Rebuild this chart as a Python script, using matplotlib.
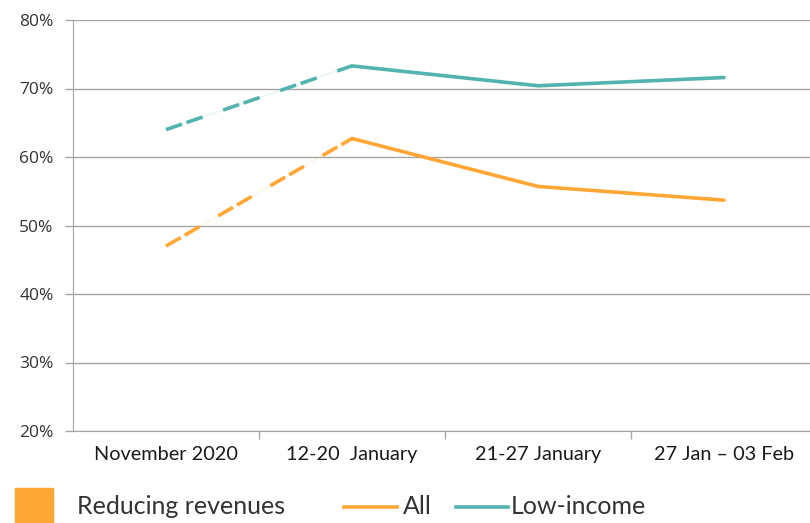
import matplotlib.pyplot as plt
from matplotlib.lines import Line2D
from matplotlib.patches import Rectangle
from matplotlib.ticker import PercentFormatter

plt.rcParams['font.family'] = ['Open Sans', 'DejaVu Sans']

periods = ['November 2020', '12-20  January', '21-27 January', '27 Jan \u2013 03 Feb']
all_share = [47.0, 62.7, 55.7, 53.7]
low_income = [64.0, 73.3, 70.4, 71.6]

orange = '#FFA634'
teal = '#52B3AF'
grey = '#A6A6A6'
narrow = ['Lato', 'DejaVu Sans']

fig = plt.figure(figsize=(8.1, 5.23), dpi=100)
ax = fig.add_axes([73 / 810, 1 - 431 / 523, 744 / 810, 411 / 523])

x = list(range(len(periods)))
for vals, col in [(all_share, orange), (low_income, teal)]:
    # dashed link between the November survey and January
    ax.plot(x[:2], vals[:2], color=col, lw=0.5, alpha=0.25)
    ax.plot(x[:2], vals[:2], color=col, lw=2.6, dashes=(4.7, 1.3, 4.7, 6.0), dash_capstyle='butt')
    ax.plot(x[1:], vals[1:], color=col, lw=2.6, solid_capstyle='round')

ax.set_xlim(-0.5, 3.5)
ax.set_ylim(20, 80)
ax.set_yticks(range(20, 81, 10))
ax.yaxis.set_major_formatter(PercentFormatter(decimals=0))
ax.set_xticks(x)
ax.set_xticklabels(periods, family=narrow, fontsize=14.3, color='#1a1a1a')
ax.set_xticks([0.5, 1.5, 2.5, 3.5], minor=True)
ax.tick_params(axis='x', which='major', length=0, pad=11)
ax.tick_params(axis='x', which='minor', length=6, color=grey, width=1)
ax.tick_params(axis='y', length=6, color=grey, width=1, labelsize=12.5, colors='#333333', pad=8)

ax.grid(axis='y', color=grey, lw=1)
ax.set_axisbelow(True)
for s in ['top', 'right']:
    ax.spines[s].set_visible(False)
ax.spines['left'].set_color(grey)
ax.spines['bottom'].set_color(grey)

# legend drawn by hand
fig.patches.append(Rectangle((15 / 810, 0), 38 / 810, 35 / 523, transform=fig.transFigure,
                             color=orange, zorder=3))
ly = 1 - 507 / 523
fig.text(77 / 810, ly, 'Reducing revenues', fontsize=18, va='center', color='#333333', family=narrow)
fig.add_artist(Line2D([344 / 810, 397 / 810], [ly, ly], color=orange, lw=2.6, transform=fig.transFigure))
fig.text(403 / 810, ly, 'All', fontsize=18, va='center', color='#333333', family=narrow)
fig.add_artist(Line2D([456 / 810, 508 / 810], [ly, ly], color=teal, lw=2.6, transform=fig.transFigure))
fig.text(511 / 810, ly, 'Low-income', fontsize=18, va='center', color='#333333', family=narrow)

fig.savefig('out.png', dpi=100)
